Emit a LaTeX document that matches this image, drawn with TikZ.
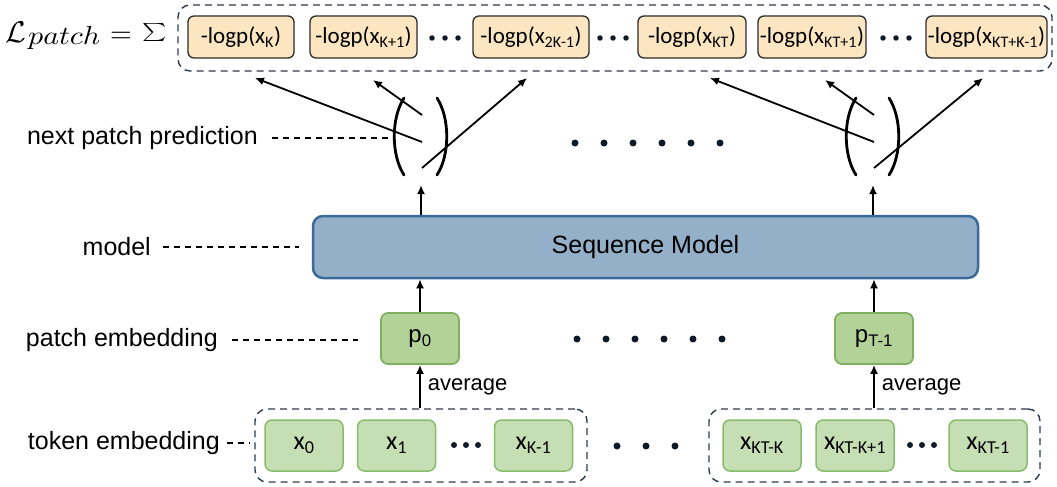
\documentclass[tikz,border=0pt]{standalone}
\usepackage{fontspec}
\setmainfont{Liberation Sans}
\newfontfamily\calfont{Carlito}
\usetikzlibrary{arrows.meta}
\definecolor{lossfill}{HTML}{FCE6C2}
\definecolor{lossborder}{HTML}{2B2B2B}
\definecolor{grpcol}{HTML}{2E3B4E}
\definecolor{tokfill}{HTML}{C5DEB4}
\definecolor{tokborder}{HTML}{88BC6B}
\definecolor{patchfill}{HTML}{B3D298}
\definecolor{patchborder}{HTML}{7FB062}
\definecolor{seqfill}{HTML}{94AFC8}
\definecolor{seqborder}{HTML}{3B6A9C}
\definecolor{dotcol}{HTML}{0E1A28}
\begin{document}
\begin{tikzpicture}[x=1pt,y=-1pt,
  lossbox/.style={draw=lossborder, fill=lossfill, rounded corners=6pt, line width=1.3pt,
    minimum height=42pt, inner sep=0pt, font=\calfont\fontsize{23}{26}\selectfont},
  tokbox/.style={draw=tokborder, fill=tokfill, rounded corners=7pt, line width=1.5pt,
    minimum width=78pt, minimum height=51pt, inner sep=0pt, font=\calfont\fontsize{26}{28}\selectfont},
  patchbox/.style={draw=patchborder, fill=patchfill, rounded corners=7pt, line width=1.8pt,
    minimum width=78pt, minimum height=51pt, inner sep=0pt, font=\fontsize{24}{28}\selectfont},
  seqbox/.style={draw=seqborder, fill=seqfill, rounded corners=10pt, line width=2.5pt,
    minimum width=665pt, minimum height=62pt, inner sep=0pt, font=\fontsize{25}{28}\selectfont},
  groupbox/.style={draw=grpcol, dash pattern=on 7pt off 5pt, rounded corners=12pt, line width=1.4pt, inner sep=0pt},
  lbl/.style={font=\fontsize{25}{28}\selectfont, anchor=east, inner sep=0pt},
  guide/.style={dash pattern=on 6pt off 5pt, line width=1.3pt},
  arr/.style={-{Latex[length=9pt,width=8pt]}, line width=1.8pt},
  paren/.style={line width=2.8pt, line cap=round},
  bigdot/.style={circle, fill=dotcol, inner sep=0pt, minimum size=7pt},
  smalldot/.style={circle, fill=dotcol, inner sep=0pt, minimum size=5.5pt},
  mathpart/.style={inner sep=0pt, anchor=base west}
]
\useasboundingbox (0,0) rectangle (1057,487);

% loss formula
\node[mathpart] (lossL) at (5,43) {\scalebox{3.0}{$\mathcal{L}$}};
\node[mathpart] (lossSub) at (28,45) {\scalebox{3.0}[2.6]{$patch$}};
\node[mathpart] (lossEq) at (110,43) {\scalebox{2.8}{$=$}};
\node[inner sep=0pt] (lossSum) at (154.5,33) {\scalebox{2.3}[1.8]{$\textstyle\sum$}};

% top group
\node[groupbox, minimum width=874pt, minimum height=66pt] (topgrp) at (615,38) {};
\node[lossbox, minimum width=106pt] (o1) at (241,37) {-logp(x\textsubscript{K})};
\node[lossbox, minimum width=107pt] (o2) at (363.5,37) {-logp(x\textsubscript{K+1})};
\node[lossbox, minimum width=116pt] (o3) at (531,37) {-logp(x\textsubscript{2K-1})};
\node[lossbox, minimum width=108pt] (o4) at (692,37) {-logp(x\textsubscript{KT})};
\node[lossbox, minimum width=108pt] (o5) at (812,37) {-logp(x\textsubscript{KT+1})};
\node[lossbox, minimum width=121pt] (o6) at (986.5,37) {-logp(x\textsubscript{KT+K-1})};
\foreach \c/\n in {445/a,613/b,896/c}{
  \node[smalldot] (td\n1) at (\c-13,38) {};
  \node[smalldot] (td\n2) at (\c,38) {};
  \node[smalldot] (td\n3) at (\c+13,38) {};
}

% brackets
\foreach \cx/\n in {421/L,873/R}{
  \coordinate (br\n) at (\cx,137);
  \draw[paren] (\cx-17,98) .. controls (\cx-30,118) and (\cx-30,155) .. (\cx-17,175);
  \draw[paren] (\cx+16,98) .. controls (\cx+29,118) and (\cx+29,155) .. (\cx+16,175);
  \coordinate (s\n1) at (\cx+1,142);
  \coordinate (s\n2) at (\cx+1,115);
  \coordinate (s\n3) at (\cx+1,168);
  \coordinate (in\n) at (\cx,185);
}
\coordinate (tL1) at (255,78);
\coordinate (tL2) at (373,80);
\coordinate (tL3) at (527,78);
\coordinate (tR1) at (710,78);
\coordinate (tR2) at (825,80);
\coordinate (tR3) at (983,78);
\foreach \n in {L,R}{
  \draw[arr] (s\n1) -- (t\n1);
  \draw[arr] (s\n2) -- (t\n2);
  \draw[arr] (s\n3) -- (t\n3);
}
\foreach \k in {0,...,5}{
  \node[bigdot] (md\k) at (575+29*\k,143) {};
  \node[bigdot] (pd\k) at (577+29*\k,339) {};
}

% sequence model
\node[seqbox] (seq) at (645.5,247) {Sequence Model};
\draw[arr] (seq.north -| inL) -- (inL);
\draw[arr] (seq.north -| inR) -- (inR);

% patch embeddings
\node[patchbox] (p0) at (420,338.5) {p\textsubscript{0}};
\node[patchbox] (pT) at (874,338.5) {p\textsubscript{T-1}};
\draw[arr] (p0.north) -- (p0.north |- seq.south);
\draw[arr] (pT.north) -- (pT.north |- seq.south);

% token groups
\node[groupbox, minimum width=332pt, minimum height=73pt] (g1) at (421,445.5) {};
\node[groupbox, minimum width=331pt, minimum height=73pt] (g2) at (874.5,445.5) {};
\node[tokbox] (x0) at (304,445.5) {x\textsubscript{0}};
\node[tokbox] (x1) at (396.5,445.5) {x\textsubscript{1}};
\node[tokbox] (xk) at (533.5,445.5) {x\textsubscript{K-1}};
\node[tokbox] (xa) at (762,445.5) {x\textsubscript{KT-K}};
\node[tokbox] (xb) at (855,445.5) {x\textsubscript{KT-K+1}};
\node[tokbox] (xc) at (988,445.5) {x\textsubscript{KT-1}};
\foreach \c/\n in {466/a,922/b}{
  \node[bigdot, minimum size=6pt] (kd\n1) at (\c-12,445) {};
  \node[bigdot, minimum size=6pt] (kd\n2) at (\c,445) {};
  \node[bigdot, minimum size=6pt] (kd\n3) at (\c+12,445) {};
}
\node[bigdot] (gd1) at (617,446) {};
\node[bigdot] (gd2) at (646,446) {};
\node[bigdot] (gd3) at (675,446) {};

\draw[arr] (g1.north -| p0) -- node[right=7pt, font=\fontsize{22}{24}\selectfont, inner sep=0pt] (av1) {average} (p0.south);
\draw[arr] (g2.north -| pT) -- node[right=7pt, font=\fontsize{22}{24}\selectfont, inner sep=0pt] (av2) {average} (pT.south);

% left labels
\node[lbl] (l1) at (258,138) {next patch prediction};
\node[lbl] (l2) at (151,247) {model};
\node[lbl] (l3) at (218,340) {patch embedding};
\node[lbl] (l4) at (220,443) {token embedding};
\draw[guide] ([xshift=14pt]l1.east) -- ([xshift=-27pt]brL |- l1.east) coordinate (e1);
\draw[guide] ([xshift=12pt]l2.east) -- ([xshift=-13pt]seq.west |- l2.east);
\draw[guide] ([xshift=14pt]l3.east) -- ([xshift=-22pt]p0.west |- l3.east);
\draw[guide] ([xshift=7pt]l4.east) -- ([xshift=-5pt]g1.west |- l4.east);
\end{tikzpicture}
\end{document}
